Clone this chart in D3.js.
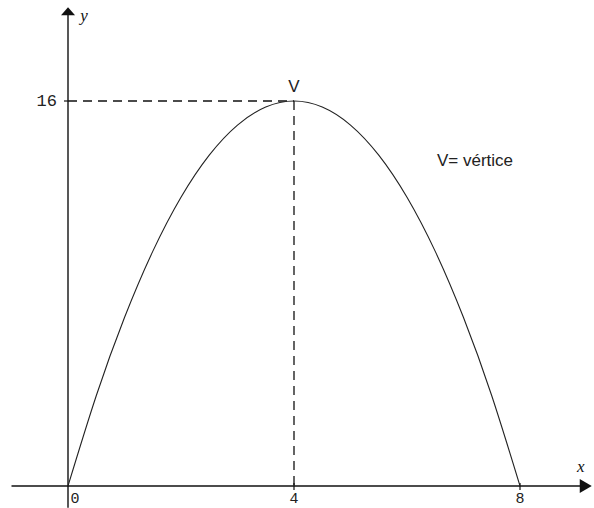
<!DOCTYPE html>
<html>
<head>
<meta charset="utf-8">
<script src="https://cdn.jsdelivr.net/npm/d3@7"></script>
<style>
  html, body { margin: 0; padding: 0; background: #fff; }
  svg { display: block; }
</style>
</head>
<body>
<svg id="chart" width="594" height="508"></svg>
<script>
const WIDTH = 594;
const HEIGHT = 508;

// points
const xValues = [0, 0.5, 1, 1.5, 2, 2.5, 3, 3.5, 4, 4.5, 5, 5.5, 6, 6.5, 7, 7.5, 8];
const yValues = [0, 3.75, 7, 9.75, 12, 13.75, 15, 15.75, 16, 15.75, 15, 13.75, 12, 9.75, 7, 3.75, 0];

const xTicks = [0, 4, 8];
const xTickLabels = ["0", "4", "8"];
const yTicks = [16];
const yTickLabels = ["16"];

const vertex = { x: 4, y: 16, label: "V" };
const legendText = "V= vértice";

const svg = d3.select("#chart");

const xScale = d3.scaleLinear().domain([0, 8]).range([68, 520]);
const yScale = d3.scaleLinear().domain([0, 16]).range([486, 101]);

const xAxisExtent = [-1, 9.27];
const yAxisExtent = [-0.9, 19.9];

const INK = "#111";

// dashed guides to the vertex
svg.append("line")
  .attr("x1", xScale(0)).attr("x2", xScale(vertex.x))
  .attr("y1", yScale(vertex.y)).attr("y2", yScale(vertex.y))
  .attr("stroke", INK).attr("stroke-width", 1.3)
  .attr("stroke-dasharray", "9,6");

svg.append("line")
  .attr("x1", xScale(vertex.x)).attr("x2", xScale(vertex.x))
  .attr("y1", yScale(vertex.y)).attr("y2", yScale(0))
  .attr("stroke", INK).attr("stroke-width", 1.3)
  .attr("stroke-dasharray", "9,6");

// axes
svg.append("line")
  .attr("x1", xScale(xAxisExtent[0])).attr("x2", xScale(xAxisExtent[1]) - 8)
  .attr("y1", yScale(0)).attr("y2", yScale(0))
  .attr("stroke", INK).attr("stroke-width", 1.4);

svg.append("line")
  .attr("x1", xScale(0)).attr("x2", xScale(0))
  .attr("y1", yScale(yAxisExtent[0])).attr("y2", yScale(yAxisExtent[1]) + 6)
  .attr("stroke", INK).attr("stroke-width", 1.4);

// arrow heads
const xTip = xScale(xAxisExtent[1]);
const yTip = yScale(yAxisExtent[1]);

svg.append("path")
  .attr("d", `M${xTip},${yScale(0)} L${xTip - 12},${yScale(0) - 7} L${xTip - 12},${yScale(0) + 7} Z`)
  .attr("fill", INK);

svg.append("path")
  .attr("d", `M${xScale(0)},${yTip} L${xScale(0) - 7},${yTip + 8} L${xScale(0) + 7},${yTip + 8} Z`)
  .attr("fill", INK);

// ticks
svg.selectAll(".x-tick")
  .data(xTicks.filter((d) => d !== 0))
  .enter()
  .append("line")
  .attr("class", "x-tick")
  .attr("x1", (d) => xScale(d)).attr("x2", (d) => xScale(d))
  .attr("y1", yScale(0) - 3).attr("y2", yScale(0) + 4)
  .attr("stroke", INK).attr("stroke-width", 1.2);

svg.selectAll(".y-tick")
  .data(yTicks)
  .enter()
  .append("line")
  .attr("class", "y-tick")
  .attr("x1", xScale(0) - 4).attr("x2", xScale(0))
  .attr("y1", (d) => yScale(d)).attr("y2", (d) => yScale(d))
  .attr("stroke", INK).attr("stroke-width", 1.2);

// tick labels
svg.selectAll(".x-label")
  .data(xTicks)
  .enter()
  .append("text")
  .attr("class", "x-label")
  .attr("x", (d) => (d === 0 ? xScale(d) + 7 : xScale(d)))
  .attr("y", yScale(0) + 17)
  .attr("text-anchor", "middle")
  .attr("font-family", "Liberation Mono, monospace")
  .attr("font-size", 15)
  .attr("fill", "#222")
  .text((d, i) => xTickLabels[i]);

svg.selectAll(".y-label")
  .data(yTicks)
  .enter()
  .append("text")
  .attr("class", "y-label")
  .attr("x", xScale(0) - 11)
  .attr("y", (d) => yScale(d) + 5)
  .attr("text-anchor", "end")
  .attr("font-family", "Liberation Mono, monospace")
  .attr("font-size", 17)
  .attr("fill", "#222")
  .text((d, i) => yTickLabels[i]);

// axis names
svg.append("text")
  .attr("x", xScale(0) + 16)
  .attr("y", yTip + 14)
  .attr("text-anchor", "middle")
  .attr("font-family", "Liberation Serif, serif")
  .attr("font-style", "italic")
  .attr("font-size", 17)
  .attr("fill", INK)
  .text("y");

svg.append("text")
  .attr("x", xTip - 11)
  .attr("y", yScale(0) - 14)
  .attr("text-anchor", "middle")
  .attr("font-family", "Liberation Serif, serif")
  .attr("font-style", "italic")
  .attr("font-size", 17)
  .attr("fill", INK)
  .text("x");

// the parabola
const points = xValues.map((x, i) => [x, yValues[i]]);

const line = d3.line()
  .x((d) => xScale(d[0]))
  .y((d) => yScale(d[1]))
  .curve(d3.curveNatural);

svg.append("path")
  .datum(points)
  .attr("d", line)
  .attr("fill", "none")
  .attr("stroke", "#222")
  .attr("stroke-width", 1.1);

// vertex label and note
svg.append("text")
  .attr("x", xScale(vertex.x))
  .attr("y", yScale(vertex.y) - 9)
  .attr("text-anchor", "middle")
  .attr("font-family", "Liberation Sans, Arial, sans-serif")
  .attr("font-size", 17)
  .attr("fill", "#222")
  .text(vertex.label);

svg.append("text")
  .attr("x", 437)
  .attr("y", 166)
  .attr("font-family", "Liberation Sans, Arial, sans-serif")
  .attr("font-size", 17)
  .attr("fill", "#222")
  .text(legendText);
</script>
</body>
</html>
